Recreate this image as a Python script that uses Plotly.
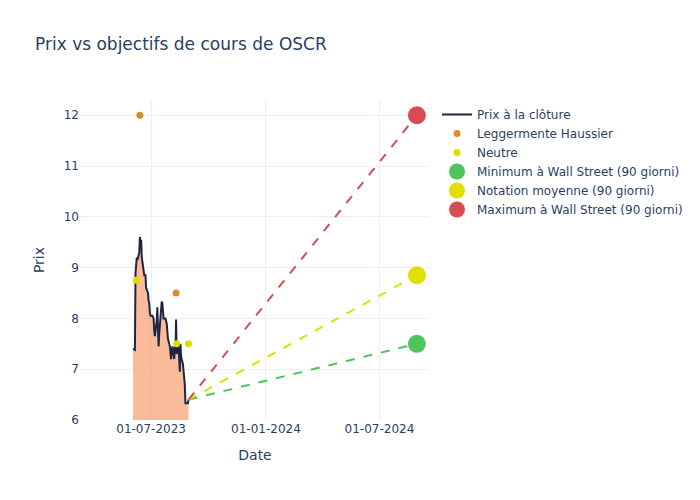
import plotly.graph_objects as go

price_dates = ["2023-06-02","2023-06-05","2023-06-06","2023-06-07","2023-06-08","2023-06-09",
    "2023-06-12","2023-06-13","2023-06-14","2023-06-15","2023-06-16","2023-06-20","2023-06-21",
    "2023-06-22","2023-06-23","2023-06-26","2023-06-27","2023-06-28","2023-06-29","2023-06-30",
    "2023-07-03","2023-07-05","2023-07-06","2023-07-07","2023-07-10","2023-07-11","2023-07-12",
    "2023-07-13","2023-07-14","2023-07-17","2023-07-18","2023-07-19","2023-07-20","2023-07-21",
    "2023-07-24","2023-07-25","2023-07-26","2023-07-27","2023-07-28","2023-07-31","2023-08-01",
    "2023-08-02","2023-08-03","2023-08-04","2023-08-07","2023-08-08","2023-08-09","2023-08-10",
    "2023-08-11","2023-08-14","2023-08-15","2023-08-16","2023-08-17","2023-08-18","2023-08-21",
    "2023-08-22","2023-08-23","2023-08-24","2023-08-25","2023-08-28","2023-08-29","2023-08-30"]
price_values = [7.40,7.38,8.90,9.18,9.20,9.15,
    9.30,9.60,9.50,9.55,9.20,8.85,8.85,
    8.85,8.60,8.50,8.35,8.30,8.10,8.05,
    8.05,8.00,7.75,7.65,7.95,8.22,7.80,
    7.45,7.70,8.25,8.33,8.30,8.10,8.00,
    8.00,7.95,7.90,7.75,7.60,7.45,7.30,
    7.20,7.35,7.45,7.20,7.45,7.30,7.98,
    7.30,7.50,7.20,6.95,7.50,7.25,7.10,
    7.00,6.90,6.70,6.33,6.32,6.33,6.40]

haussier_dates = ["2023-06-13", "2023-08-10"]
haussier_values = [12.0, 8.5]
neutre_dates = ["2023-06-07", "2023-08-11", "2023-08-30"]
neutre_values = [8.75, 7.5, 7.5]

target_date = "2024-08-30"
target_min = 7.5
target_avg = 8.85
target_max = 12.0

fig = go.Figure()
fig.add_trace(go.Scatter(x=price_dates, y=price_values, mode="none", fill="tozeroy",
                         fillcolor="rgba(246,150,100,0.65)", showlegend=False, hoverinfo="skip"))
fig.add_trace(go.Scatter(x=price_dates, y=price_values, mode="lines", name="Prix à la clôture",
                         line=dict(color="#1c2541", width=2)))
fig.add_trace(go.Scatter(x=haussier_dates, y=haussier_values, mode="markers", name="Leggermente Haussier",
                         marker=dict(color="#d98e2b", size=7)))
fig.add_trace(go.Scatter(x=neutre_dates, y=neutre_values, mode="markers", name="Neutre",
                         marker=dict(color="#dede00", size=7)))

targets = [(target_min, "#4fc35c", "Minimum à Wall Street (90 giorni)"),
           (target_avg, "#e0e000", "Notation moyenne (90 giorni)"),
           (target_max, "#d64c52", "Maximum à Wall Street (90 giorni)")]
last_date = price_dates[-1]
last_val = price_values[-1]
for val, col, nm in targets:
    fig.add_trace(go.Scatter(x=[last_date, target_date], y=[last_val, val], mode="lines",
                             line=dict(color=col, dash="dash", width=2), showlegend=False,
                             hoverinfo="skip"))
for val, col, nm in targets:
    fig.add_trace(go.Scatter(x=[target_date], y=[val], mode="markers", name=nm,
                             marker=dict(color=col, size=18)))

fig.update_layout(
    template="plotly_white",
    width=700, height=500,
    font=dict(family="DejaVu Sans"),
    title=dict(text="Prix vs objectifs de cours de OSCR"),
    xaxis=dict(title="Date", tickformat="%d-%m-%Y", dtick="M6", tick0="2023-07-01",
               range=["2023-03-09", "2024-09-20"]),
    yaxis=dict(title="Prix", range=[6, 12.3]),
)
fig.write_html("out.html")
